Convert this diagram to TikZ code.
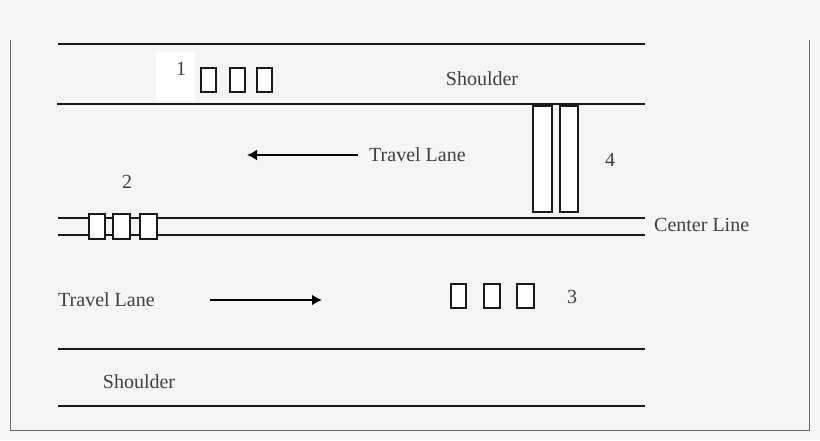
\documentclass[tikz,border=0pt]{standalone}
\usepackage{fontspec}
\setmainfont{Liberation Serif}
\begin{document}
\begin{tikzpicture}[x=1pt,y=-1pt,
  road/.style={line width=2.2pt,draw=black!90},
  car/.style={draw=black!90,line width=2pt,fill=white},
  lbl/.style={font=\fontsize{20}{22}\selectfont,text=black!75,inner sep=0pt},
  arr/.style={line width=2pt,-{Latex[length=10pt,width=11pt]}}]
\usetikzlibrary{arrows.meta}
\fill[black!4] (0,0) rectangle (820,440);
\useasboundingbox (0,0) rectangle (820,440);
\draw[black!60,line width=1pt] (10,40) -- (10,430) -- (809,430) -- (809,40);
\draw[road] (58,44) -- (645,44);
\draw[road] (57,104) -- (645,104);
\draw[road] (58,218) -- (645,218);
\draw[road] (58,235) -- (645,235);
\draw[road] (58,349) -- (645,349);
\draw[road] (58,406) -- (645,406);
\fill[white] (156,52) rectangle (195,100);
\node[lbl] (n1) at (181,69) {1};
\draw[car] (201,68) rectangle (216,92);
\draw[car] (230,68) rectangle (245,92);
\draw[car] (257,68) rectangle (272,92);
\node[lbl] (sh1) at (482,79) {Shoulder};
\node[lbl,anchor=west] (tl1) at (369,155) {Travel Lane};
\coordinate (a1) at (247,155);
\draw[arr] (tl1.west) ++(-11,0) coordinate (a0) (a0) -- (a1);
\node[lbl] (n2) at (127,182) {2};
\draw[car] (89,214) rectangle (105,239);
\draw[car] (113,214) rectangle (130,239);
\draw[car] (140,214) rectangle (157,239);
\draw[car] (533,106) rectangle (552,212);
\draw[car] (560,106) rectangle (578,212);
\node[lbl] (n4) at (610,160) {4};
\node[lbl,anchor=west] (cl) at (654,225) {Center Line};
\node[lbl,anchor=west] (tl2) at (58,300) {Travel Lane};
\coordinate (b0) at (210,300);
\coordinate (b1) at (322,300);
\draw[arr] (b0) -- (b1);
\draw[car] (451,284) rectangle (466,308);
\draw[car] (484,284) rectangle (500,308);
\draw[car] (517,284) rectangle (534,308);
\node[lbl] (n3) at (572,297) {3};
\node[lbl] (sh2) at (139,382) {Shoulder};
\end{tikzpicture}
\end{document}
